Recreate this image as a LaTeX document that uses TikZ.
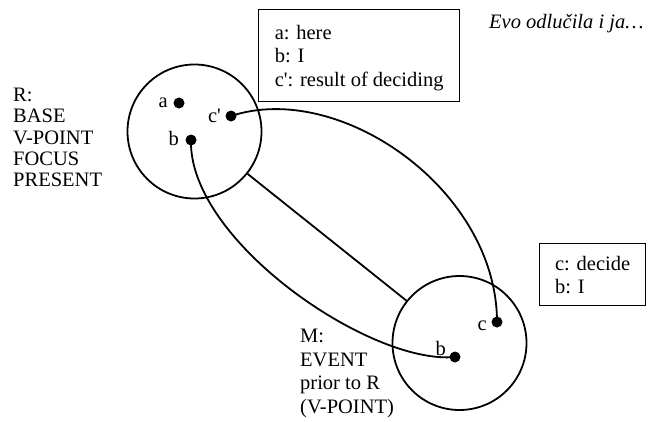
\documentclass[tikz,border=0pt]{standalone}
\usepackage{fontspec}
\newfontfamily\figserif{Liberation Serif}
\begin{document}
\begin{tikzpicture}[x=1pt,y=-1pt,
  every node/.style={font=\figserif\fontsize{20.5}{23.5}\selectfont, inner sep=0pt},
  ring/.style={circle, draw, line width=1.8pt, minimum size=134pt},
  dot/.style={circle, fill, minimum size=11pt},
  link/.style={line width=1.8pt},
  infobox/.style={draw, line width=1.3pt, align=left, anchor=north west, inner xsep=14pt, text depth=0pt},
  ptlabel/.style={anchor=base east},
  roles/.style={align=left, anchor=north west}
]
\useasboundingbox (0,0) rectangle (656,421);

% the two mental spaces
\node[ring] (R) at (194.5,131.5) {};
\node[ring] (M) at (459.5,343) {};
\draw[link] (R) -- (M);

% elements of R
\node[dot] (Ra) at (179,103) {};
\node[dot] (Rc) at (231,116) {};
\node[dot] (Rb) at (191,140) {};
\node[ptlabel] (Ral) at (168,107) {a};
\node[ptlabel] (Rcl) at (221,122) {c'};
\node[ptlabel] (Rbl) at (179,145) {b};

% elements of M
\node[dot] (Mc) at (497,322) {};
\node[dot] (Mb) at (455,357) {};
\node[ptlabel] (Mcl) at (487,330) {c};
\node[ptlabel] (Mbl) at (446,355) {b};

% counterpart connectors
\draw[link] (Rc.center) .. controls (340,80) and (497,190) .. (Mc.center);
\draw[link] (Rb.center) .. controls (188,240) and (370,365) .. (Mb.center);

% space descriptions
\node[roles, font=\figserif\fontsize{20.5}{21.3}\selectfont] (Rtxt) at (13,88) {R:\\BASE\\V-POINT\\FOCUS\\PRESENT};
\node[roles] (Mtxt) at (300,329) {M:\\EVENT\\prior to R\\(V-POINT)};

% keys
\node[infobox, minimum width=201pt, minimum height=92pt] (keyR) at (258,9) {a: here\\b: I\\c': result of deciding};
\node[infobox, minimum width=106pt, minimum height=62pt] (keyM) at (539,243) {c: decide\\b: I};

\node[anchor=base west, font=\figserif\itshape\fontsize{20.5}{23.5}\selectfont] (ex) at (489,28) {Evo odlučila i ja…};
\end{tikzpicture}
\end{document}
